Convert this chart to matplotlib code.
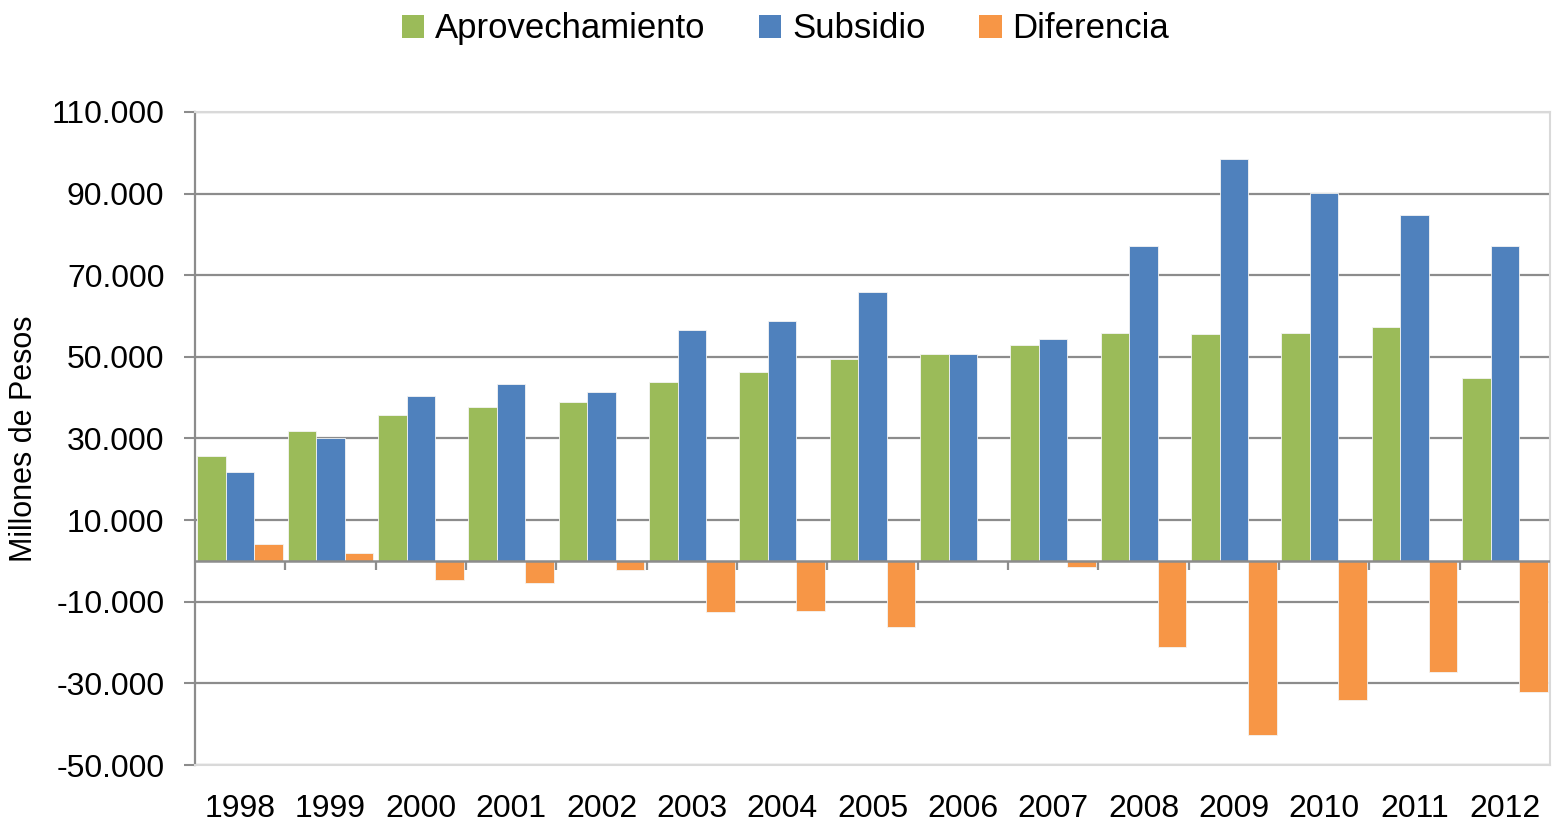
import matplotlib
matplotlib.use('Agg')
import matplotlib.pyplot as plt
from matplotlib.patches import Patch
import numpy as np

years = ['1998', '1999', '2000', '2001', '2002', '2003', '2004', '2005',
         '2006', '2007', '2008', '2009', '2010', '2011', '2012']
aprovechamiento = [25700, 31900, 35800, 37700, 39000, 43900, 46300, 49500,
                   50700, 52900, 55900, 55600, 55900, 57300, 44800]
subsidio = [21800, 30100, 40400, 43400, 41400, 56600, 58800, 65900,
            50700, 54400, 77200, 98500, 90200, 84800, 77200]
diferencia = [4200, 2000, -4700, -5400, -2200, -12500, -12300, -16200,
              0, -1500, -21100, -42600, -34100, -27200, -32100]

labels = ['Aprovechamiento', 'Subsidio', 'Diferencia']
colors = ['#9BBB59', '#4F81BD', '#F79646']
yticks = [110000, 90000, 70000, 50000, 30000, 10000, -10000, -30000, -50000]

plt.rcParams['font.family'] = ['Liberation Sans', 'DejaVu Sans']

fig = plt.figure(figsize=(15.55, 8.24), dpi=100)
ax = fig.add_axes([0.1254, 0.0716, 0.8714, 0.7925])

x = np.arange(len(years))
w = 0.316
for i, (vals, c) in enumerate(zip([aprovechamiento, subsidio, diferencia], colors)):
    ax.bar(x + (i - 1) * w, vals, w, color=c, edgecolor='#f4f4f4',
           linewidth=0.6, zorder=3)

ax.set_xlim(-0.5, len(years) - 0.5)
ax.set_ylim(-50000, 110000)
ax.set_yticks(yticks)
ax.set_yticklabels([f'{v:,}'.replace(',', '.') for v in yticks])
ax.yaxis.grid(True, color='#8c8c8c', linewidth=1.6, zorder=0)
ax.set_axisbelow(True)

# zero line with category tick marks
ax.axhline(0, color='#8c8c8c', linewidth=1.8, zorder=4)
bounds = np.arange(len(years) + 1) - 0.5
ax.vlines(bounds[1:-1], -2200, 0, color='#8c8c8c', linewidth=1.6, zorder=4)

ax.set_xticks(x)
ax.set_xticklabels(years)
ax.tick_params(axis='x', length=0, pad=21, labelsize=23)
ax.tick_params(axis='y', length=8, width=1.5, color='#8c8c8c', pad=14,
               labelsize=23)

for s in ['top', 'right', 'bottom']:
    ax.spines[s].set_color('#d9d9d9')
    ax.spines[s].set_linewidth(1.5)
ax.spines['left'].set_color('#8c8c8c')
ax.spines['left'].set_linewidth(1.6)

ax.set_ylabel('Millones de Pesos', fontsize=22)
ax.yaxis.set_label_coords(-0.115, 0.5)

handles = [Patch(facecolor=c, label=l) for c, l in zip(colors, labels)]
fig.legend(handles=handles, loc='upper center', bbox_to_anchor=(0.505, 1.023),
           ncol=3, frameon=False, fontsize=25, handlelength=0.65,
           handleheight=0.65, handletextpad=0.3, columnspacing=1.55)

plt.savefig('out.png', dpi=100)
plt.close()
